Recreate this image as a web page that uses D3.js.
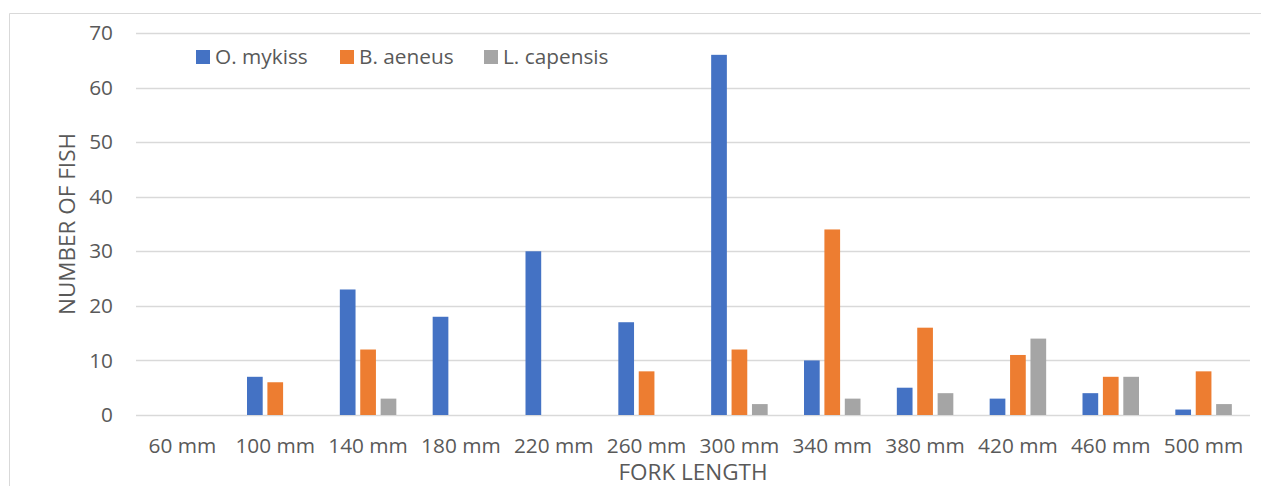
<!DOCTYPE html>
<html>
<head>
<meta charset="utf-8">
<script src="https://cdn.jsdelivr.net/npm/d3@7"></script>
<style>
  body { margin: 0; background: #fff; }
  text { font-family: "Open Sans", "Liberation Sans", sans-serif; fill: #595959; }
</style>
</head>
<body>
<svg id="chart"></svg>
<script>
const categories = ['60 mm', '100 mm', '140 mm', '180 mm', '220 mm', '260 mm', '300 mm', '340 mm', '380 mm', '420 mm', '460 mm', '500 mm'];
const seriesNames = ['O. mykiss', 'B. aeneus', 'L. capensis'];
const mykiss = [0, 7, 23, 18, 30, 17, 66, 10, 5, 3, 4, 1];
const aeneus = [0, 6, 12, 0, 0, 8, 12, 34, 16, 11, 7, 8];
const capensis = [0, 0, 3, 0, 0, 0, 2, 3, 4, 14, 7, 2];
const yTicks = [0, 10, 20, 30, 40, 50, 60, 70];
const colors = ['#4472C4', '#ED7D31', '#A5A5A5'];

const fullWidth = 1261;
const fullHeight = 486;
const margin = {top: 33, right: 11, bottom: 71, left: 136};
const width = fullWidth - margin.left - margin.right;
const height = fullHeight - margin.top - margin.bottom;

const tickFont = 20.8;
const titleFont = 22.5;

const series = [mykiss, aeneus, capensis];
const data = categories.map((c, i) => ({
    category: c,
    values: series.map((s, j) => ({name: seriesNames[j], value: s[i], idx: j}))
}));

const svg = d3.select('#chart')
    .attr('width', fullWidth)
    .attr('height', fullHeight);

// outer frame (only top and left edges are in view)
svg.append('path')
    .attr('d', `M9.5,${fullHeight} V13.5 H${fullWidth}`)
    .attr('fill', 'none')
    .attr('stroke', '#d9d9d9')
    .attr('stroke-width', 1);

const g = svg.append('g')
    .attr('transform', `translate(${margin.left}, ${margin.top})`);

const xScale = d3.scaleBand()
    .domain(categories)
    .range([0, width]);

const yScale = d3.scaleLinear()
    .domain([0, 70])
    .range([height, 0]);

const barWidth = 15.7;
const barGap = 4.7;
const groupWidth = 3 * barWidth + 2 * barGap;
const xInner = d3.scaleBand()
    .domain(d3.range(3))
    .range([0, groupWidth])
    .paddingInner(barGap / (barWidth + barGap));

// gridlines
g.append('g').attr('class', 'grid')
    .selectAll('line').data(yTicks)
    .enter().append('line')
        .attr('x1', 0)
        .attr('x2', width)
        .attr('y1', d => Math.round(yScale(d)) + 0.5)
        .attr('y2', d => Math.round(yScale(d)) + 0.5)
        .attr('stroke', '#d9d9d9')
        .attr('stroke-width', 1.5);

const cat = g.selectAll('.cat').data(data)
    .enter().append('g')
        .attr('class', 'cat')
        .attr('transform', d => `translate(${xScale(d.category) + (xScale.bandwidth() - groupWidth) / 2}, 0)`);

cat.selectAll('rect').data(d => d.values.filter(v => v.value > 0))
    .enter().append('rect')
        .attr('x', d => xInner(d.idx))
        .attr('width', xInner.bandwidth())
        .attr('y', d => yScale(d.value))
        .attr('height', d => yScale(0) - yScale(d.value))
        .attr('fill', d => colors[d.idx]);

// y axis
const yAxis = d3.axisLeft(yScale)
    .tickValues(yTicks)
    .tickSize(0)
    .tickPadding(23);

g.append('g').attr('class', 'axis axis--y')
    .call(yAxis)
    .call(a => a.select('.domain').remove())
    .selectAll('text')
        .attr('font-size', tickFont)
        .style('font-family', '"Open Sans", "Liberation Sans", sans-serif')
        .attr('fill', '#595959');

// x axis
const xAxis = d3.axisBottom(xScale)
    .tickSize(0)
    .tickPadding(23);

g.append('g').attr('class', 'axis axis--x')
    .attr('transform', `translate(0, ${height})`)
    .call(xAxis)
    .call(a => a.select('.domain').remove())
    .selectAll('text')
        .attr('font-size', tickFont)
        .style('font-family', '"Open Sans", "Liberation Sans", sans-serif')
        .attr('fill', '#595959');

// axis titles
svg.append('text')
    .attr('x', margin.left + width / 2)
    .attr('y', 480)
    .attr('text-anchor', 'middle')
    .attr('font-size', titleFont)
    .text('FORK LENGTH');

svg.append('text')
    .attr('transform', `translate(75, ${margin.top + height / 2}) rotate(-90)`)
    .attr('text-anchor', 'middle')
    .attr('font-size', titleFont)
    .text('NUMBER OF FISH');

// legend
const legendX = [196, 340, 484];
const legend = svg.append('g').attr('class', 'legend')
    .selectAll('g').data(seriesNames)
    .enter().append('g')
        .attr('transform', (d, i) => `translate(${legendX[i]}, 50)`);

legend.append('rect')
    .attr('width', 14)
    .attr('height', 14)
    .attr('fill', (d, i) => colors[i]);

legend.append('text')
    .attr('x', 19)
    .attr('y', 14)
    .attr('font-size', tickFont)
    .text(d => d);
</script>
</body>
</html>
